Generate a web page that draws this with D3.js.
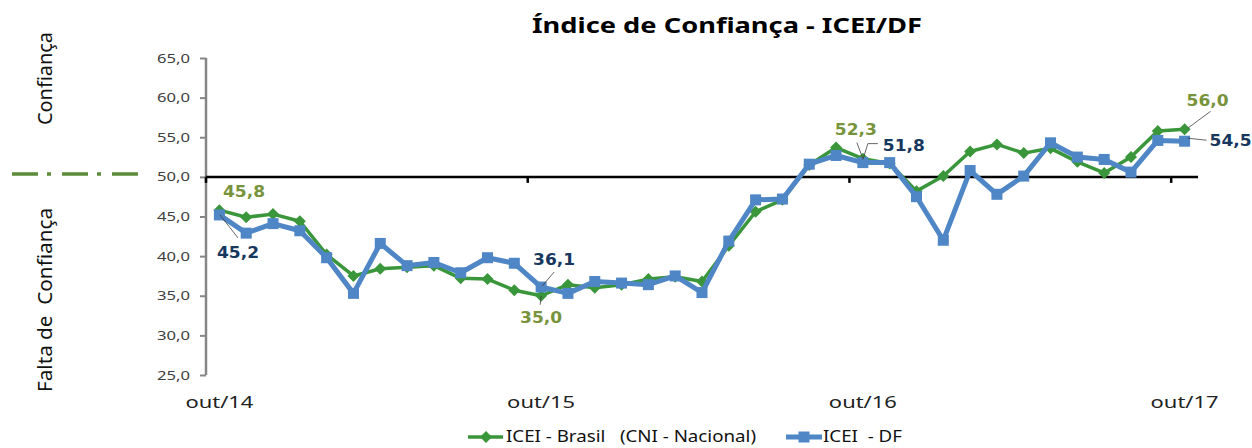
<!DOCTYPE html>
<html>
<head>
<meta charset="utf-8">
<script src="https://cdn.jsdelivr.net/npm/d3@7/dist/d3.min.js"></script>
<style>
  html, body { margin: 0; padding: 0; background: #fff; }
  text { white-space: pre; }
</style>
</head>
<body>
<svg id="chart" width="1252" height="448"></svg>
<script>
// months out/14 .. out/17
var months = ["out/14","nov/14","dez/14","jan/15","fev/15","mar/15","abr/15","mai/15","jun/15","jul/15","ago/15","set/15",
              "out/15","nov/15","dez/15","jan/16","fev/16","mar/16","abr/16","mai/16","jun/16","jul/16","ago/16","set/16",
              "out/16","nov/16","dez/16","jan/17","fev/17","mar/17","abr/17","mai/17","jun/17","jul/17","ago/17","set/17",
              "out/17"];

var brasil = [45.8,44.9,45.3,44.4,40.2,37.5,38.4,38.6,38.8,37.2,37.1,35.7,
              35.0,36.4,36.0,36.4,37.1,37.4,36.8,41.3,45.6,47.1,51.5,53.7,
              52.3,51.7,48.2,50.1,53.2,54.1,53.0,53.6,51.9,50.5,52.5,55.8,
              56.0];

var df = [45.2,42.9,44.1,43.2,39.8,35.3,41.6,38.8,39.2,37.9,39.8,39.1,
          36.1,35.3,36.8,36.6,36.4,37.5,35.4,41.9,47.1,47.2,51.6,52.7,
          51.8,51.8,47.5,42.0,50.8,47.8,50.1,54.3,52.5,52.2,50.6,54.6,
          54.5];

var yTicks = [25,30,35,40,45,50,55,60,65];
var xLabels = ["out/14","out/15","out/16","out/17"];
var seriesNames = ["ICEI - Brasil   (CNI - Nacional)", "ICEI  - DF"];

var GREEN = "#3a963a", BLUE = "#4f86c6";
var GREEN_LBL = "#77933c", NAVY_LBL = "#17375e";

var svg = d3.select("#chart");

var x = d3.scaleBand().domain(months).range([206, 1198]);
var y = d3.scaleLinear().domain([25, 65]).range([375, 58]);
function cx(m) { return x(m) + x.bandwidth() / 2; }
var fmt = function(v) { return d3.format(".1f")(v).replace(".", ","); };

// title
svg.append("text")
  .attr("x", 727).attr("y", 33)
  .attr("text-anchor", "middle")
  .attr("textLength", 390).attr("lengthAdjust", "spacingAndGlyphs")
  .style("font-family", "'Noto Sans', sans-serif")
  .style("font-weight", "bold").style("font-size", "22px")
  .attr("fill", "#000")
  .text("Índice de Confiança - ICEI/DF");

// left side labels
svg.append("text")
  .attr("transform", "translate(52,78.5) rotate(-90)")
  .attr("text-anchor", "middle")
  .attr("textLength", 93).attr("lengthAdjust", "spacingAndGlyphs")
  .style("font-family", "'Noto Sans', sans-serif").style("font-size", "20px")
  .attr("fill", "#111")
  .text("Confiança");
svg.append("text")
  .attr("transform", "translate(52,300) rotate(-90)")
  .attr("text-anchor", "middle")
  .attr("textLength", 184).attr("lengthAdjust", "spacingAndGlyphs")
  .style("font-family", "'Noto Sans', sans-serif").style("font-size", "20px")
  .attr("fill", "#111")
  .text("Falta de  Confiança");
svg.append("line")
  .attr("x1", 12).attr("x2", 138).attr("y1", 174).attr("y2", 174)
  .attr("stroke", "#5b8c3a").attr("stroke-width", 3.5)
  .attr("stroke-dasharray", "26,9,4,11");

// y axis
var yAxis = svg.append("g")
  .attr("transform", "translate(206,0)")
  .call(d3.axisLeft(y).tickValues(yTicks).tickFormat(fmt).tickSize(6).tickPadding(10));
yAxis.select(".domain").attr("stroke", "#868686").attr("stroke-width", 2.5)
  .attr("d", "M0," + y(25) + "V" + y(65));
yAxis.selectAll(".tick line").attr("stroke", "#868686").attr("stroke-width", 2);
yAxis.selectAll(".tick text")
  .attr("textLength", 33).attr("lengthAdjust", "spacingAndGlyphs")
  .style("font-family", "'Noto Sans', sans-serif").style("font-size", "12.5px")
  .attr("fill", "#404040");

// x axis crossing at 50
var xAxisG = svg.append("g");
xAxisG.append("line")
  .attr("x1", 206).attr("x2", 1198).attr("y1", y(50)).attr("y2", y(50))
  .attr("stroke", "#000").attr("stroke-width", 2.5);
xAxisG.selectAll("line.tk")
  .data(months.filter(function(m, i) { return i % 12 == 0; }))
  .enter().append("line")
  .attr("class", "tk")
  .attr("x1", function(m) { return x(m); }).attr("x2", function(m) { return x(m); })
  .attr("y1", y(50)).attr("y2", y(50) + 6)
  .attr("stroke", "#000").attr("stroke-width", 2.5);
xAxisG.selectAll("text.xl")
  .data(xLabels)
  .enter().append("text")
  .attr("class", "xl")
  .attr("x", function(m) { return cx(m); }).attr("y", 408)
  .attr("text-anchor", "middle")
  .attr("textLength", 68).attr("lengthAdjust", "spacingAndGlyphs")
  .style("font-family", "'Noto Sans', sans-serif").style("font-size", "17px")
  .attr("fill", "#222")
  .text(function(m) { return m; });

// series
var line = d3.line()
  .x(function(d, i) { return cx(months[i]); })
  .y(function(d) { return y(d); });

var diamond = "M0,-6L6,0L0,6L-6,0Z";

svg.append("path").datum(brasil)
  .attr("d", line).attr("fill", "none")
  .attr("stroke", GREEN).attr("stroke-width", 3.5).attr("stroke-linejoin", "round");
svg.selectAll("path.gm").data(brasil).enter().append("path")
  .attr("class", "gm")
  .attr("d", diamond)
  .attr("transform", function(d, i) { return "translate(" + cx(months[i]) + "," + y(d) + ")"; })
  .attr("fill", GREEN);

svg.append("path").datum(df)
  .attr("d", line).attr("fill", "none")
  .attr("stroke", BLUE).attr("stroke-width", 5).attr("stroke-linejoin", "round");
svg.selectAll("rect.bm").data(df).enter().append("rect")
  .attr("class", "bm")
  .attr("x", function(d, i) { return cx(months[i]) - 5.5; })
  .attr("y", function(d) { return y(d) - 5.5; })
  .attr("width", 11).attr("height", 11)
  .attr("fill", BLUE);

// data labels: [series, index, dx, dy, leader points relative to the point]
var labels = [
  [brasil, 0, 3.6, -13, null, GREEN_LBL],
  [df, 0, -2.4, 43, [[0.6, 0], [18.6, 23]], NAVY_LBL],
  [df, 12, -8, -22, [[1, -1], [13, -15]], NAVY_LBL],
  [brasil, 12, -21, 27, [[0, 0], [-1, 9]], GREEN_LBL],
  [brasil, 24, -28, -24, [[-6, -16], [0, 0]], GREEN_LBL],
  [df, 24, 20, -12, [[15, -19], [5, -19], [0, -3]], NAVY_LBL],
  [brasil, 36, 2, -23, [[3, -1], [26, -18]], GREEN_LBL],
  [df, 36, 25, 5, [[3, -3], [22, -1]], NAVY_LBL]
];

labels.forEach(function(l) {
  var s = l[0], i = l[1];
  var px = cx(months[i]), py = y(s[i]);
  if (l[4]) {
    svg.append("path")
      .attr("d", d3.line()(l[4].map(function(p) { return [px + p[0], py + p[1]]; })))
      .attr("fill", "none").attr("stroke", "#404040").attr("stroke-width", 0.8);
  }
  svg.append("text")
    .attr("x", px + l[2]).attr("y", py + l[3])
    .attr("textLength", 42).attr("lengthAdjust", "spacingAndGlyphs")
    .style("font-family", "'DejaVu Sans', sans-serif")
    .style("font-weight", "bold").style("font-size", "15px")
    .attr("fill", l[5])
    .text(fmt(s[i]));
});

// legend
var leg = svg.append("g");
leg.append("line").attr("x1", 468).attr("x2", 503).attr("y1", 437).attr("y2", 437)
  .attr("stroke", GREEN).attr("stroke-width", 3.5);
leg.append("path").attr("d", diamond).attr("transform", "translate(486,437)").attr("fill", GREEN);
leg.append("text").attr("x", 506).attr("y", 442)
  .attr("textLength", 250).attr("lengthAdjust", "spacingAndGlyphs")
  .style("font-family", "'Noto Sans', sans-serif").style("font-size", "16px")
  .attr("fill", "#111").text(seriesNames[0]);
leg.append("line").attr("x1", 786).attr("x2", 822).attr("y1", 437).attr("y2", 437)
  .attr("stroke", BLUE).attr("stroke-width", 5);
leg.append("rect").attr("x", 798.5).attr("y", 431.5).attr("width", 11).attr("height", 11).attr("fill", BLUE);
leg.append("text").attr("x", 823).attr("y", 442)
  .attr("textLength", 79).attr("lengthAdjust", "spacingAndGlyphs")
  .style("font-family", "'Noto Sans', sans-serif").style("font-size", "16px")
  .attr("fill", "#111").text(seriesNames[1]);
</script>
</body>
</html>
